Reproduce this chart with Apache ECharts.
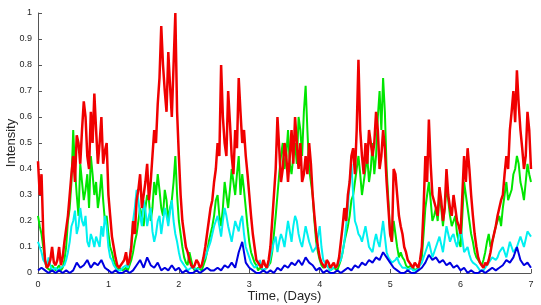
<!DOCTYPE html>
<html>
<head>
<meta charset="utf-8">
<script src="https://cdn.jsdelivr.net/npm/echarts@6/dist/echarts.min.js"></script>
<style>
  html, body { margin: 0; padding: 0; background: #fff; }
  #chart { width: 541px; height: 305px; }
</style>
</head>
<body>
<div id="chart"></div>
<script>
// red / green / cyan sampled every 0.025 days, blue every 0.05 days, 0 .. 7
const fineStep = 0.025
const blueStep = 0.05
const red = [0.43, 0.30, 0.38, 0.15, 0.05, 0.02, 0.03, 0.05, 0.10, 0.04,
  0.03, 0.05, 0.10, 0.03, 0.06, 0.12, 0.17, 0.22, 0.30, 0.38,
  0.45, 0.35, 0.53, 0.50, 0.42, 0.55, 0.66, 0.60, 0.45, 0.40,
  0.62, 0.50, 0.69, 0.55, 0.42, 0.50, 0.60, 0.42, 0.47, 0.50,
  0.30, 0.22, 0.14, 0.10, 0.06, 0.03, 0.02, 0.02, 0.04, 0.05,
  0.08, 0.03, 0.05, 0.10, 0.20, 0.15, 0.28, 0.32, 0.38, 0.25,
  0.30, 0.35, 0.42, 0.28, 0.35, 0.45, 0.55, 0.50, 0.65, 0.75,
  0.95, 0.80, 0.70, 0.62, 0.85, 0.72, 0.60, 0.80, 1.00, 0.62,
  0.45, 0.30, 0.20, 0.15, 0.10, 0.08, 0.05, 0.03, 0.02, 0.03,
  0.05, 0.04, 0.02, 0.03, 0.06, 0.10, 0.15, 0.20, 0.25, 0.28,
  0.35, 0.40, 0.50, 0.45, 0.80, 0.60, 0.50, 0.45, 0.70, 0.58,
  0.45, 0.38, 0.55, 0.48, 0.75, 0.62, 0.50, 0.55, 0.45, 0.38,
  0.30, 0.22, 0.15, 0.10, 0.05, 0.04, 0.03, 0.02, 0.05, 0.03,
  0.02, 0.05, 0.10, 0.20, 0.30, 0.40, 0.60, 0.48, 0.35, 0.40,
  0.50, 0.45, 0.35, 0.45, 0.55, 0.42, 0.60, 0.50, 0.40, 0.50,
  0.35, 0.38, 0.45, 0.38, 0.50, 0.42, 0.30, 0.22, 0.15, 0.10,
  0.06, 0.04, 0.03, 0.02, 0.05, 0.04, 0.02, 0.03, 0.04, 0.02,
  0.03, 0.06, 0.12, 0.18, 0.25, 0.20, 0.30, 0.35, 0.45, 0.48,
  0.38, 0.55, 0.82, 0.55, 0.45, 0.38, 0.50, 0.42, 0.55, 0.50,
  0.45, 0.50, 0.62, 0.55, 0.40, 0.45, 0.55, 0.48, 0.35, 0.25,
  0.15, 0.12, 0.40, 0.38, 0.30, 0.22, 0.18, 0.15, 0.10, 0.08,
  0.05, 0.04, 0.03, 0.02, 0.04, 0.03, 0.02, 0.05, 0.10, 0.25,
  0.45, 0.35, 0.59, 0.42, 0.30, 0.30, 0.25, 0.22, 0.33, 0.28,
  0.20, 0.25, 0.40, 0.30, 0.25, 0.22, 0.30, 0.25, 0.20, 0.18,
  0.15, 0.30, 0.45, 0.35, 0.48, 0.40, 0.30, 0.22, 0.15, 0.10,
  0.06, 0.04, 0.03, 0.02, 0.04, 0.03, 0.05, 0.08, 0.12, 0.15,
  0.18, 0.22, 0.25, 0.28, 0.30, 0.38, 0.45, 0.40, 0.55, 0.62,
  0.70, 0.58, 0.78, 0.65, 0.55, 0.48, 0.40, 0.45, 0.62, 0.55,
  0.40]
const green = [0.22, 0.18, 0.15, 0.10, 0.05, 0.02, 0.02, 0.01, 0.03, 0.02,
  0.01, 0.02, 0.03, 0.01, 0.02, 0.05, 0.10, 0.20, 0.25, 0.35,
  0.55, 0.40, 0.30, 0.22, 0.42, 0.35, 0.28, 0.32, 0.38, 0.25,
  0.45, 0.38, 0.30, 0.35, 0.25, 0.30, 0.38, 0.28, 0.20, 0.22,
  0.15, 0.10, 0.08, 0.05, 0.03, 0.01, 0.02, 0.02, 0.01, 0.01,
  0.02, 0.01, 0.03, 0.05, 0.08, 0.12, 0.15, 0.20, 0.25, 0.22,
  0.18, 0.25, 0.30, 0.28, 0.20, 0.25, 0.35, 0.30, 0.38, 0.32,
  0.25, 0.22, 0.32, 0.28, 0.20, 0.25, 0.28, 0.35, 0.45, 0.30,
  0.20, 0.15, 0.10, 0.06, 0.04, 0.03, 0.08, 0.05, 0.02, 0.01,
  0.01, 0.02, 0.02, 0.01, 0.03, 0.05, 0.08, 0.12, 0.15, 0.18,
  0.22, 0.28, 0.30, 0.22, 0.18, 0.25, 0.35, 0.30, 0.25, 0.32,
  0.40, 0.35, 0.30, 0.38, 0.45, 0.30, 0.38, 0.32, 0.25, 0.18,
  0.12, 0.08, 0.06, 0.04, 0.03, 0.01, 0.02, 0.02, 0.01, 0.01,
  0.02, 0.03, 0.04, 0.08, 0.15, 0.22, 0.30, 0.38, 0.45, 0.50,
  0.40, 0.45, 0.55, 0.42, 0.38, 0.45, 0.50, 0.42, 0.60, 0.55,
  0.45, 0.62, 0.72, 0.55, 0.40, 0.35, 0.30, 0.20, 0.12, 0.08,
  0.05, 0.03, 0.02, 0.02, 0.03, 0.02, 0.01, 0.01, 0.02, 0.02,
  0.01, 0.03, 0.05, 0.08, 0.12, 0.15, 0.18, 0.22, 0.28, 0.30,
  0.35, 0.40, 0.45, 0.38, 0.30, 0.35, 0.40, 0.45, 0.35, 0.40,
  0.50, 0.38, 0.45, 0.60, 0.70, 0.55, 0.75, 0.62, 0.40, 0.28,
  0.15, 0.12, 0.20, 0.15, 0.10, 0.06, 0.08, 0.06, 0.05, 0.03,
  0.02, 0.02, 0.03, 0.02, 0.01, 0.01, 0.02, 0.04, 0.06, 0.15,
  0.25, 0.30, 0.35, 0.28, 0.20, 0.22, 0.25, 0.20, 0.30, 0.25,
  0.18, 0.25, 0.33, 0.28, 0.22, 0.18, 0.20, 0.22, 0.15, 0.12,
  0.10, 0.22, 0.35, 0.30, 0.25, 0.20, 0.15, 0.12, 0.08, 0.06,
  0.05, 0.04, 0.03, 0.05, 0.08, 0.12, 0.15, 0.10, 0.12, 0.15,
  0.18, 0.20, 0.22, 0.18, 0.25, 0.30, 0.35, 0.28, 0.30, 0.32,
  0.38, 0.40, 0.45, 0.42, 0.35, 0.32, 0.28, 0.35, 0.42, 0.38,
  0.35]
const cyan = [0.12, 0.10, 0.08, 0.05, 0.04, 0.02, 0.06, 0.03, 0.01, 0.01,
  0.02, 0.01, 0.01, 0.02, 0.02, 0.03, 0.05, 0.08, 0.12, 0.18,
  0.20, 0.24, 0.15, 0.18, 0.25, 0.20, 0.18, 0.22, 0.12, 0.10,
  0.15, 0.13, 0.10, 0.14, 0.12, 0.10, 0.18, 0.14, 0.22, 0.18,
  0.10, 0.06, 0.05, 0.03, 0.02, 0.01, 0.01, 0.01, 0.02, 0.02,
  0.03, 0.02, 0.05, 0.12, 0.20, 0.25, 0.32, 0.28, 0.22, 0.18,
  0.28, 0.24, 0.18, 0.22, 0.25, 0.16, 0.12, 0.15, 0.20, 0.22,
  0.15, 0.20, 0.25, 0.22, 0.18, 0.24, 0.28, 0.20, 0.15, 0.12,
  0.08, 0.05, 0.04, 0.03, 0.02, 0.01, 0.01, 0.02, 0.02, 0.02,
  0.01, 0.01, 0.02, 0.03, 0.05, 0.06, 0.08, 0.10, 0.12, 0.15,
  0.18, 0.20, 0.22, 0.18, 0.14, 0.20, 0.25, 0.22, 0.18, 0.15,
  0.12, 0.16, 0.20, 0.18, 0.16, 0.20, 0.22, 0.15, 0.10, 0.08,
  0.06, 0.04, 0.03, 0.02, 0.02, 0.03, 0.05, 0.02, 0.01, 0.01,
  0.02, 0.03, 0.06, 0.09, 0.12, 0.14, 0.08, 0.12, 0.15, 0.13,
  0.10, 0.15, 0.20, 0.16, 0.12, 0.18, 0.22, 0.20, 0.15, 0.12,
  0.10, 0.14, 0.18, 0.15, 0.12, 0.10, 0.08, 0.09, 0.10, 0.14,
  0.18, 0.10, 0.05, 0.04, 0.03, 0.02, 0.01, 0.01, 0.02, 0.02,
  0.03, 0.04, 0.05, 0.08, 0.12, 0.18, 0.25, 0.35, 0.42, 0.30,
  0.20, 0.18, 0.15, 0.14, 0.12, 0.15, 0.18, 0.14, 0.10, 0.09,
  0.08, 0.12, 0.15, 0.12, 0.10, 0.15, 0.20, 0.14, 0.08, 0.06,
  0.05, 0.04, 0.04, 0.05, 0.06, 0.04, 0.03, 0.02, 0.02, 0.02,
  0.01, 0.01, 0.02, 0.01, 0.01, 0.01, 0.02, 0.03, 0.04, 0.06,
  0.08, 0.10, 0.12, 0.09, 0.06, 0.08, 0.10, 0.12, 0.14, 0.11,
  0.08, 0.13, 0.18, 0.15, 0.12, 0.14, 0.15, 0.12, 0.10, 0.14,
  0.18, 0.13, 0.08, 0.09, 0.10, 0.07, 0.05, 0.04, 0.04, 0.03,
  0.02, 0.01, 0.01, 0.01, 0.02, 0.03, 0.04, 0.05, 0.06, 0.06,
  0.05, 0.06, 0.08, 0.09, 0.10, 0.08, 0.06, 0.09, 0.12, 0.10,
  0.08, 0.09, 0.10, 0.12, 0.14, 0.12, 0.10, 0.13, 0.16, 0.15,
  0.14]
const blue = [0.01, 0.02, 0.01, 0.00, 0.01, 0.00, 0.01, 0.00, 0.01, 0.00,
  0.01, 0.04, 0.02, 0.03, 0.05, 0.02, 0.04, 0.03, 0.05, 0.02,
  0.01, 0.00, 0.01, 0.00, 0.00, 0.01, 0.00, 0.01, 0.03, 0.05,
  0.02, 0.06, 0.03, 0.02, 0.04, 0.01, 0.02, 0.01, 0.03, 0.01,
  0.02, 0.00, 0.01, 0.00, 0.00, 0.01, 0.00, 0.01, 0.02, 0.01,
  0.01, 0.02, 0.01, 0.03, 0.02, 0.04, 0.02, 0.08, 0.12, 0.04,
  0.02, 0.01, 0.00, 0.00, 0.01, 0.00, 0.01, 0.00, 0.02, 0.01,
  0.03, 0.02, 0.04, 0.03, 0.05, 0.03, 0.06, 0.04, 0.03, 0.01,
  0.02, 0.00, 0.01, 0.00, 0.00, 0.01, 0.00, 0.01, 0.02, 0.01,
  0.03, 0.02, 0.04, 0.03, 0.05, 0.04, 0.06, 0.05, 0.08, 0.06,
  0.04, 0.02, 0.01, 0.00, 0.00, 0.01, 0.00, 0.00, 0.01, 0.02,
  0.04, 0.07, 0.05, 0.06, 0.04, 0.05, 0.03, 0.04, 0.02, 0.03,
  0.01, 0.02, 0.00, 0.01, 0.00, 0.00, 0.01, 0.00, 0.01, 0.02,
  0.01, 0.02, 0.03, 0.05, 0.04, 0.06, 0.10, 0.05, 0.03, 0.04,
  0.02]

function pairs (vals, step) {
  return vals.map(function (v, i) { return [i * step, v] })
}

const chart = echarts.init(document.getElementById('chart'))
const axisText = { color: '#262626', fontSize: 9, fontFamily: 'Liberation Sans' }
const nameText = { color: '#262626', fontSize: 13, fontFamily: 'Liberation Sans' }

chart.setOption({
  animation: false,
  grid: { left: 38, right: 10, top: 13, bottom: 32, outerBoundsMode: 'none' },
  xAxis: {
    type: 'value', min: 0, max: 7, interval: 1,
    name: 'Time, (Days)', nameLocation: 'middle', nameGap: 17,
    nameMoveOverlap: false,
    nameTextStyle: nameText,
    axisLine: { lineStyle: { color: '#555', width: 1 } },
    axisTick: { inside: true, length: 4, lineStyle: { color: '#555' } },
    axisLabel: Object.assign({ margin: 7 }, axisText),
    splitLine: { show: false }
  },
  yAxis: {
    type: 'value', min: 0, max: 1, interval: 0.1,
    name: 'Intensity', nameLocation: 'middle', nameGap: 20,
    nameMoveOverlap: false,
    nameTextStyle: nameText,
    axisLine: { show: true, lineStyle: { color: '#555', width: 1 } },
    axisTick: { show: true, inside: true, length: 4, lineStyle: { color: '#555' } },
    axisLabel: Object.assign({ margin: 6 }, axisText),
    splitLine: { show: false }
  },
  series: [
    { name: 'green', type: 'line', data: pairs(green, fineStep), showSymbol: false,
      lineStyle: { color: '#00e600', width: 2 }, z: 2 },
    { name: 'cyan', type: 'line', data: pairs(cyan, fineStep), showSymbol: false,
      lineStyle: { color: '#00f0f0', width: 2 }, z: 3 },
    { name: 'red', type: 'line', data: pairs(red, fineStep), showSymbol: false,
      lineStyle: { color: '#f00000', width: 2.5 }, z: 4 },
    { name: 'blue', type: 'line', data: pairs(blue, blueStep), showSymbol: false,
      lineStyle: { color: '#0000e0', width: 2 }, z: 5 }
  ]
})
</script>
</body>
</html>
